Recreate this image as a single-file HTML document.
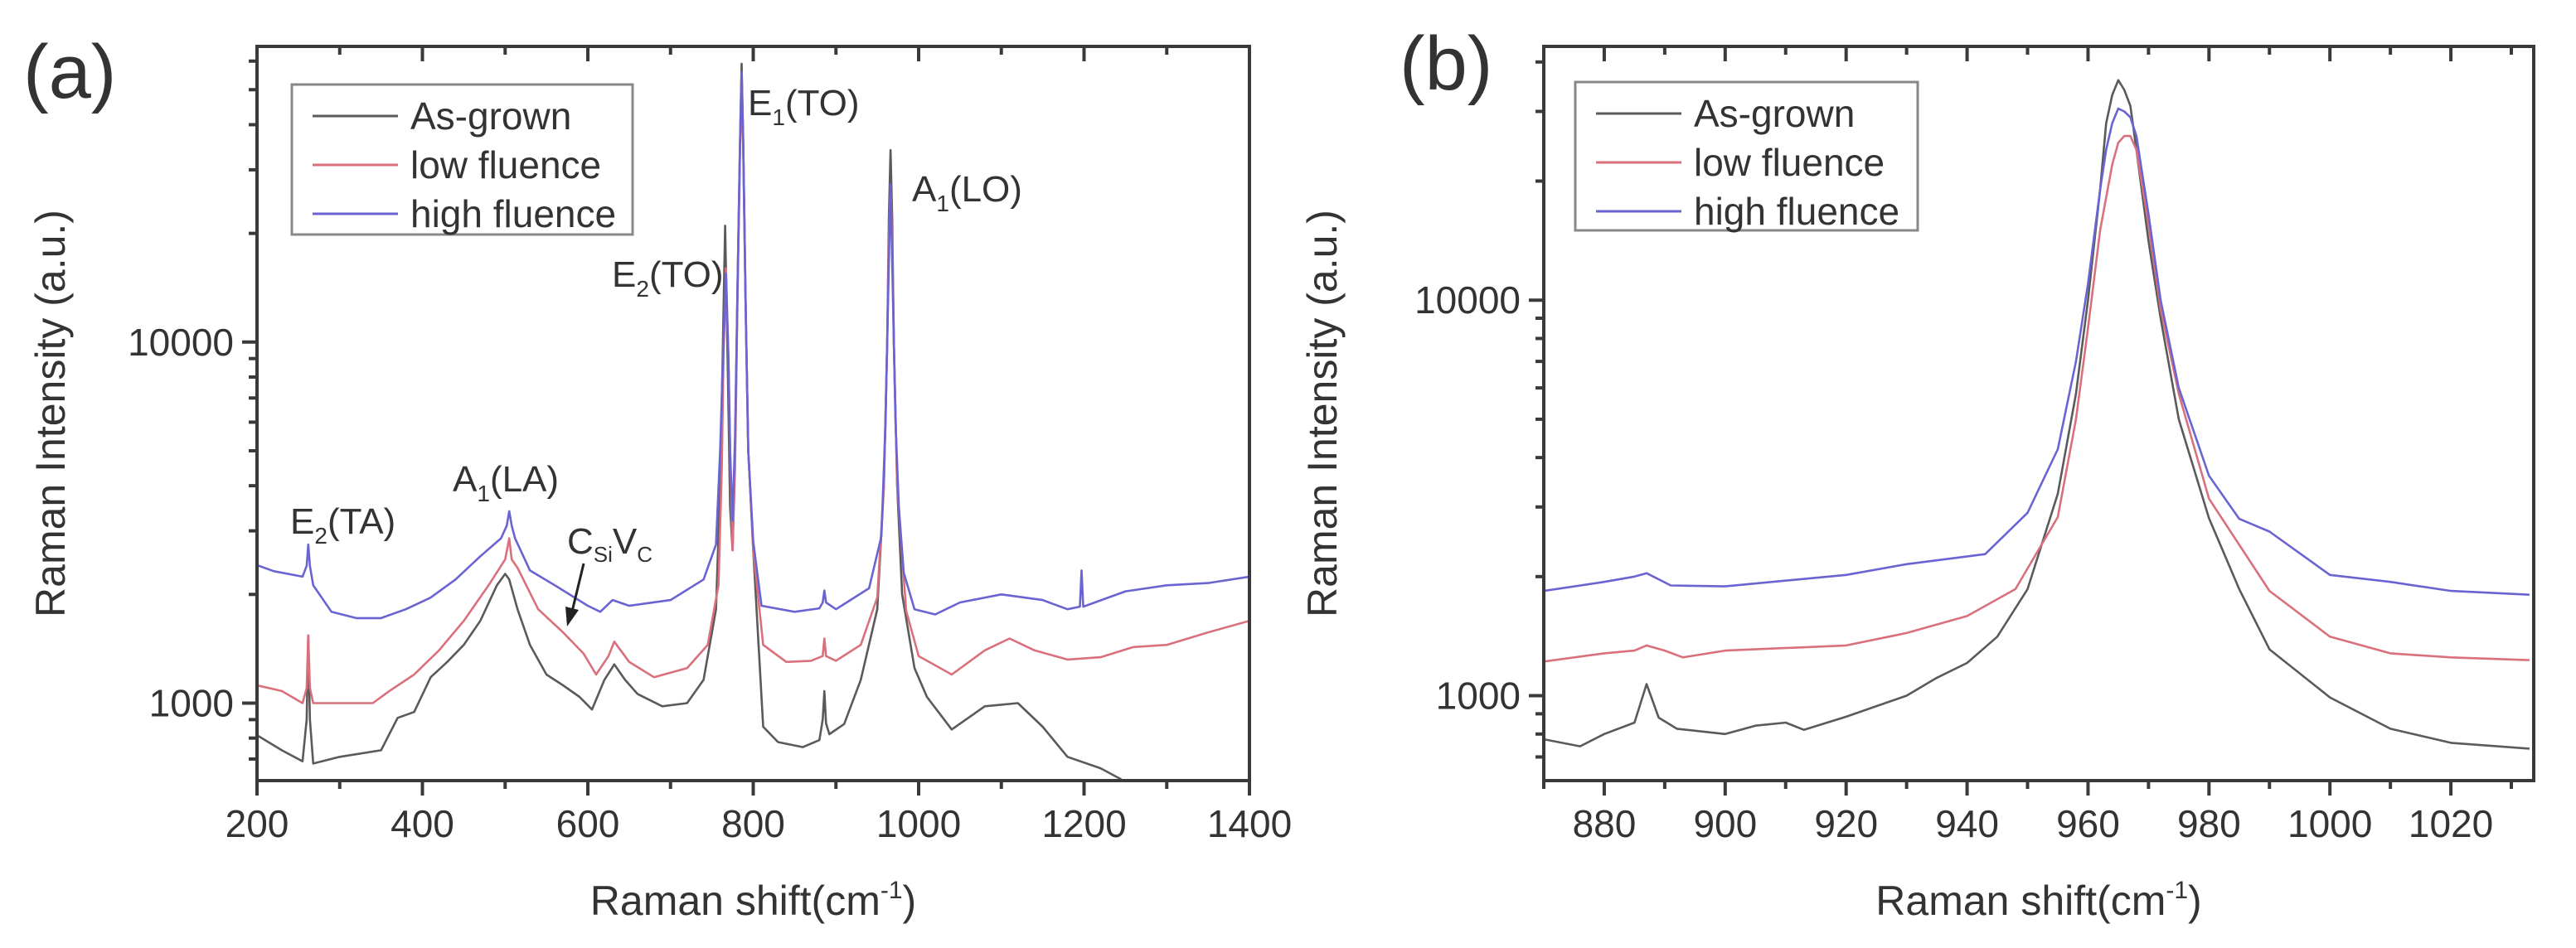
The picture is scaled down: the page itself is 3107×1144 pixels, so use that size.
<!DOCTYPE html>
<html><head><meta charset="utf-8">
<style>
html,body{margin:0;padding:0;background:#fff;}
svg{display:block;font-family:"Liberation Sans",Arial,sans-serif;}
</style></head>
<body>
<svg id="fig" width="3107" height="1144" viewBox="0 0 3107 1144" xmlns="http://www.w3.org/2000/svg">
<rect x="0" y="0" width="3107" height="1144" fill="#fff"/>
<g id="pa"></g>
<g id="pb"></g>
</svg>
<script>
// ---------- Panel (a) data ----------
const aXTicks = [200, 400, 600, 800, 1000, 1200, 1400];
const aYTicks = [1000, 10000];
const aAsGrownX = [200,230,255,260,262,264,268,300,350,370,390,410,430,450,470,490,500,505,515,530,550,570,590,605,620,632,645,660,690,720,740,755,760,763,766,769,772,775,778,781,784,786,788,791,794,800,812,830,860,880,884,886,888,892,910,930,950,958,962,964,966,968,970,974,980,995,1010,1040,1080,1120,1150,1180,1220,1245];
const aAsGrownY = [815,740,690,900,1540,900,680,710,740,910,945,1180,1300,1450,1690,2120,2280,2200,1820,1450,1200,1120,1040,960,1160,1280,1160,1060,980,1000,1160,1820,4000,9000,21000,9000,3500,2650,5000,14000,35000,59000,35000,12000,5000,2650,860,780,755,790,900,1080,880,820,875,1160,1820,4000,10000,22000,34000,22000,10000,4000,2000,1250,1040,845,980,1000,860,710,660,615];
const aLowX = [200,230,255,260,262,264,268,300,340,360,390,420,450,480,500,505,508,515,540,570,595,610,625,632,650,680,720,745,758,762,764,767,770,772,775,778,781,784,786,788,791,794,800,812,840,870,884,886,888,900,930,950,958,962,964,966,968,970,974,985,1000,1040,1080,1110,1140,1180,1220,1260,1300,1350,1400];
const aLowY = [1120,1080,1000,1100,1540,1100,1000,1000,1000,1080,1200,1400,1690,2120,2500,2860,2500,2370,1820,1570,1370,1200,1350,1480,1300,1180,1250,1450,2120,4500,9000,16000,9000,5000,2650,4500,13000,33000,55000,33000,12000,5000,2650,1450,1300,1310,1350,1510,1350,1310,1450,1960,4000,10000,19000,27000,19000,10000,4000,1800,1350,1200,1400,1510,1400,1320,1340,1430,1450,1570,1690];
const aHighX = [200,220,255,260,262,264,268,290,320,350,380,410,440,470,495,502,505,508,512,530,560,600,615,630,650,700,740,755,760,764,767,770,772,775,778,781,784,786,788,791,794,800,810,850,880,884,886,888,900,940,955,960,963,966,969,972,976,982,995,1020,1050,1100,1150,1180,1195,1197,1199,1250,1300,1350,1400];
const aHighY = [2410,2320,2240,2400,2750,2400,2120,1790,1720,1720,1820,1960,2200,2550,2860,3100,3400,3100,2860,2330,2120,1860,1790,1930,1860,1930,2200,2750,5000,10000,15500,9000,5000,3200,5500,14000,35000,56000,35000,12000,5000,2800,1860,1790,1830,1900,2050,1900,1820,2080,2900,6000,13000,27400,13000,6000,3500,2300,1820,1760,1900,2000,1930,1820,1850,2330,1850,2040,2120,2150,2240];

// ---------- Panel (b) data ----------
const bXTicks = [880, 900, 920, 940, 960, 980, 1000, 1020];
const bYTicks = [1000, 10000];
const bAsGrownX = [870,876,880,885,887,889,892,900,905,910,913,920,930,935,940,945,950,955,958,960,962,963,964,965,966,967,968,970,972,975,980,985,990,1000,1010,1020,1033];
const bAsGrownY = [776,745,800,855,1070,880,825,800,840,855,820,885,1000,1110,1210,1410,1860,3240,5800,10000,19000,28000,33000,36000,34000,31000,24000,14100,9000,5000,2810,1860,1310,990,825,760,735];
const bLowX = [870,880,885,887,890,893,900,920,930,940,948,955,958,960,962,964,965,966,967,968,970,972,975,980,990,1000,1010,1020,1033];
const bLowY = [1220,1280,1300,1340,1300,1250,1300,1340,1440,1590,1860,2830,5000,8500,15000,22000,25000,26000,26000,24000,15500,9500,5800,3150,1840,1410,1280,1250,1230];
const bHighX = [870,880,885,887,891,900,920,930,943,950,955,958,960,962,963,964,965,966,967,968,970,972,975,980,985,990,1000,1010,1020,1033];
const bHighY = [1840,1940,2000,2040,1900,1890,2020,2150,2280,2900,4200,7000,11000,19000,24000,28000,30500,30000,29000,26000,16500,10000,6000,3600,2800,2600,2020,1940,1840,1800];

const NS = "http://www.w3.org/2000/svg";
function mk(parent, tag, attrs, text) {
  const e = document.createElementNS(NS, tag);
  for (const k in attrs) e.setAttribute(k, attrs[k]);
  if (text !== undefined) e.textContent = text;
  parent.appendChild(e);
  return e;
}
const COL = {black: "#5a5a5a", red: "#d9707c", blue: "#6a64d2"};

function drawPanel(g, cfg) {
  const L = cfg.left, R = cfg.right, T = cfg.top, B = cfg.bottom;
  const xs = v => L + (v - cfg.xmin) / (cfg.xmax - cfg.xmin) * (R - L);
  const ly0 = Math.log10(cfg.ymin), ly1 = Math.log10(cfg.ymax);
  const ys = v => B - (Math.log10(v) - ly0) / (ly1 - ly0) * (B - T);

  const clip = mk(g, "clipPath", {id: cfg.id + "-clip"});
  mk(clip, "rect", {x: L, y: T, width: R - L, height: B - T});

  // series
  cfg.series.forEach(s => {
    let d = "";
    s.x.forEach((xv, i) => { d += (i ? "L" : "M") + xs(xv).toFixed(1) + "," + ys(s.y[i]).toFixed(1); });
    const p = mk(g, "path", {d: d, fill: "none", stroke: s.color, "stroke-width": 2.6, "stroke-linejoin": "round", "clip-path": "url(#" + cfg.id + "-clip)"});
    
    
  });

  // frame
  const fr = mk(g, "rect", {x: L, y: T, width: R - L, height: B - T, fill: "none", stroke: "#3a3a3a", "stroke-width": 4});
  
  

  // x ticks
  const xt = mk(g, "g", {});
  
  
  for (let v = Math.ceil(cfg.xmin / cfg.xminor) * cfg.xminor; v <= cfg.xmax + 1e-9; v += cfg.xminor) {
    const isMaj = cfg.xTicks.some(t => Math.abs(t - v) < 1e-6);
    const x = xs(v), len = isMaj ? 18 : 10;
    mk(xt, "line", {x1: x, y1: B, x2: x, y2: B + len, stroke: "#3a3a3a", "stroke-width": 4});
    mk(xt, "line", {x1: x, y1: T, x2: x, y2: T + len, stroke: "#3a3a3a", "stroke-width": 4});
  }
  cfg.xTicks.forEach(v => {
    const t = mk(xt, "text", {x: xs(v), y: 1010, "font-size": 46, "text-anchor": "middle", fill: "#333"}, String(v));
    
    
  });
  // y ticks (log)
  const yt = mk(g, "g", {});
  
  
  for (let dec = Math.floor(ly0); dec <= Math.ceil(ly1); dec++) {
    for (let m = 1; m <= 9; m++) {
      const v = m * Math.pow(10, dec);
      if (v < cfg.ymin || v > cfg.ymax) continue;
      const y = ys(v), len = m === 1 ? 18 : 10;
      mk(yt, "line", {x1: L - len, y1: y, x2: L, y2: y, stroke: "#3a3a3a", "stroke-width": 4});
    }
  }
  cfg.yTicks.forEach(v => {
    const t = mk(yt, "text", {x: L - 28, y: ys(v) + 16, "font-size": 46, "text-anchor": "end", fill: "#333"}, String(v));
    
    
  });
  // axis titles
  const xtitle = mk(g, "text", {x: (L + R) / 2, y: 1104, "font-size": 50, "text-anchor": "middle", fill: "#333"});
  
  
  xtitle.appendChild(document.createTextNode("Raman shift(cm"));
  mk(xtitle, "tspan", {"font-size": 30, dy: -20}, "-1");
  mk(xtitle, "tspan", {dy: 20}, ")");
  const ytitle = mk(g, "text", {x: 0, y: 0, "font-size": 50, "text-anchor": "middle", fill: "#333", transform: "translate(" + cfg.yTitleX + "," + (T + B) / 2 + ") rotate(-90)"}, "Raman Intensity (a.u.)");
  
  
  // panel tag
  const tag = mk(g, "text", {x: cfg.tagX, y: cfg.tagY, "font-size": 92, fill: "#333"}, cfg.tag);
  
  
  // legend
  const lg = mk(g, "g", {});
  
  
  const lb = cfg.legend;
  mk(lg, "rect", {x: lb.x, y: lb.y, width: lb.w, height: lb.h, fill: "#fff", stroke: "#888", "stroke-width": 3});
  cfg.series.forEach((s, i) => {
    const yy = lb.y + 38 + i * 59;
    const e = mk(lg, "g", {});
    
    
    mk(e, "line", {x1: lb.x + 25, y1: yy, x2: lb.x + 128, y2: yy, stroke: s.color, "stroke-width": 3});
    mk(e, "text", {x: lb.x + 143, y: yy + 16, "font-size": 46, fill: "#333"}, s.label);
  });
  return {xs, ys};
}

const pa = document.getElementById("pa");
drawPanel(pa, {
  id: "a", left: 310, right: 1507, top: 56, bottom: 942,
  xmin: 200, xmax: 1400, xminor: 100, ymin: 610, ymax: 65900,
  xTicks: aXTicks, yTicks: aYTicks, yTitleX: 78, tag: "(a)", tagX: 28, tagY: 118,
  legend: {x: 352, y: 102, w: 411, h: 181},
  series: [
    {name: "as-grown-line", label: "As-grown", color: COL.black, x: aAsGrownX, y: aAsGrownY},
    {name: "low-fluence-line", label: "low fluence", color: COL.red, x: aLowX, y: aLowY},
    {name: "high-fluence-line", label: "high fluence", color: COL.blue, x: aHighX, y: aHighY}
  ]
});
// annotations panel a
function anno(parent, name, x, y, main, sub, rest) {
  const t = mk(parent, "text", {x: x, y: y, "font-size": 44, fill: "#333"});
  
  
  t.appendChild(document.createTextNode(main));
  mk(t, "tspan", {"font-size": 28, dy: 12}, sub);
  mk(t, "tspan", {dy: -12}, rest);
  return t;
}
anno(pa, "e2-ta-label", 350, 644, "E", "2", "(TA)");
anno(pa, "a1-la-label", 546, 593, "A", "1", "(LA)");
anno(pa, "e2-to-label", 738, 346, "E", "2", "(TO)");
anno(pa, "e1-to-label", 902, 139, "E", "1", "(TO)");
anno(pa, "a1-lo-label", 1100, 243, "A", "1", "(LO)");
const cs = mk(pa, "text", {x: 684, y: 668, "font-size": 44, fill: "#333"});


cs.appendChild(document.createTextNode("C"));
mk(cs, "tspan", {"font-size": 26, dy: 10}, "Si");
mk(cs, "tspan", {dy: -10}, "V");
mk(cs, "tspan", {"font-size": 26, dy: 10}, "C");
const arr = mk(pa, "g", {});


mk(arr, "line", {x1: 704, y1: 680, x2: 690, y2: 738, stroke: "#222", "stroke-width": 3});
mk(arr, "polygon", {points: "684,756 682,732 698,736", fill: "#222"});

const pb = document.getElementById("pb");
drawPanel(pb, {
  id: "b", left: 1862, right: 3056, top: 56, bottom: 942,
  xmin: 870, xmax: 1033.7, xminor: 10, ymin: 610, ymax: 43800,
  xTicks: bXTicks, yTicks: bYTicks, yTitleX: 1612, tag: "(b)", tagX: 1688, tagY: 108,
  legend: {x: 1900, y: 99, w: 413, h: 179},
  series: [
    {name: "as-grown-line", label: "As-grown", color: COL.black, x: bAsGrownX, y: bAsGrownY},
    {name: "low-fluence-line", label: "low fluence", color: COL.red, x: bLowX, y: bLowY},
    {name: "high-fluence-line", label: "high fluence", color: COL.blue, x: bHighX, y: bHighY}
  ]
});
</script>
</body></html>
